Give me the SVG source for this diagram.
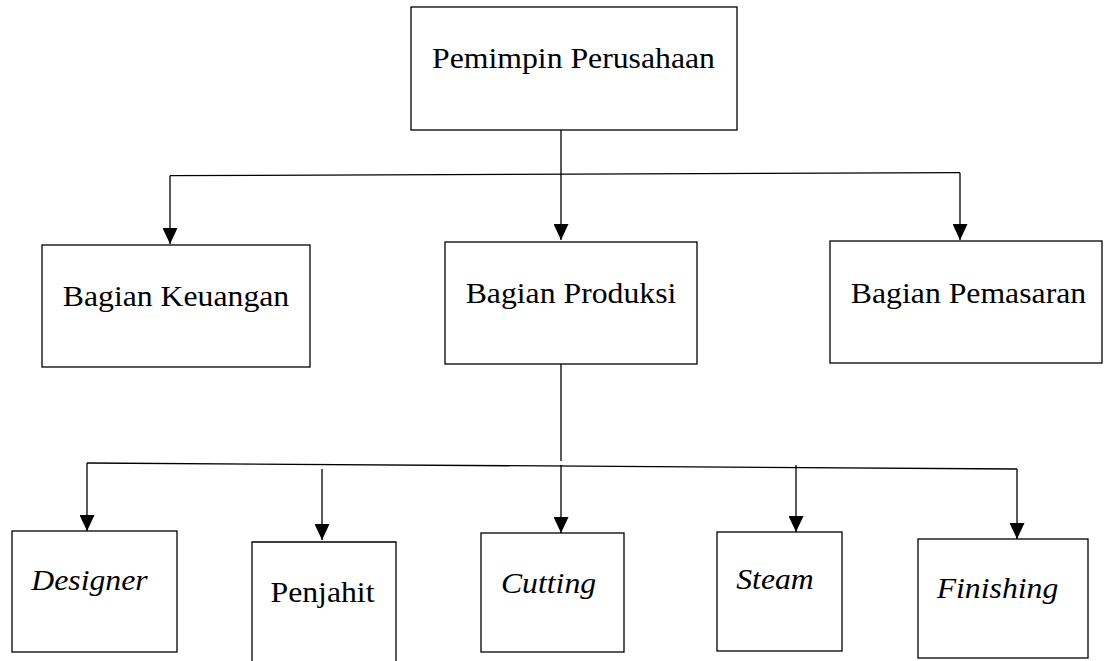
<svg xmlns="http://www.w3.org/2000/svg" width="1109" height="661" viewBox="0 0 1109 661" font-family="Liberation Serif" font-size="29">
<style>
.box{fill:#fff;stroke:#000;stroke-width:1.3}
.t{fill:#000;text-anchor:middle}
.i{font-style:italic}
.c{fill:none;stroke:#000;stroke-width:1.3}
</style>
<defs>
<marker id="ah" viewBox="0 0 16 15" refX="16" refY="7.5" markerWidth="16" markerHeight="15" markerUnits="userSpaceOnUse" orient="auto">
<path d="M0,0 L16,7.5 L0,15 z" fill="#000"/>
</marker>
</defs>
<rect width="1109" height="661" fill="#fff"/>
<g id="connectors">
<line class="c" x1="561" y1="130" x2="561" y2="240" marker-end="url(#ah)"/>
<line class="c" x1="170" y1="175.7" x2="960" y2="172.7"/>
<line class="c" x1="170" y1="175.7" x2="170" y2="244" marker-end="url(#ah)"/>
<line class="c" x1="960" y1="172.7" x2="960" y2="240" marker-end="url(#ah)"/>
<line class="c" x1="561" y1="364" x2="561" y2="461"/>
<line class="c" x1="87" y1="463" x2="1017" y2="469"/>
<line class="c" x1="87" y1="463" x2="87" y2="531" marker-end="url(#ah)"/>
<line class="c" x1="322" y1="469" x2="322" y2="540" marker-end="url(#ah)"/>
<line class="c" x1="561" y1="465" x2="561" y2="533" marker-end="url(#ah)"/>
<line class="c" x1="796" y1="465" x2="796" y2="532" marker-end="url(#ah)"/>
<line class="c" x1="1017" y1="469" x2="1017" y2="539" marker-end="url(#ah)"/>
</g>
<g id="pemimpin">
<rect class="box" x="411" y="7" width="326" height="123"/>
<text class="t" transform="translate(573.5,68) scale(1.095,1)">Pemimpin Perusahaan</text>
</g>
<g id="keuangan">
<rect class="box" x="42" y="245" width="268" height="122"/>
<text class="t" transform="translate(176,306) scale(1.095,1)">Bagian Keuangan</text>
</g>
<g id="produksi">
<rect class="box" x="445" y="242" width="252" height="122"/>
<text class="t" transform="translate(571,303) scale(1.095,1)">Bagian Produksi</text>
</g>
<g id="pemasaran">
<rect class="box" x="830" y="241" width="272" height="122"/>
<text class="t" transform="translate(968.5,303) scale(1.095,1)">Bagian Pemasaran</text>
</g>
<g id="designer">
<rect class="box" x="12" y="531" width="165" height="121"/>
<text class="t i" transform="translate(89.5,590) scale(1.095,1)">Designer</text>
</g>
<g id="penjahit">
<path class="box" d="M252,661 L252,542 L396,542 L396,661"/>
<text class="t" transform="translate(322.5,602) scale(1.095,1)">Penjahit</text>
</g>
<g id="cutting">
<rect class="box" x="481" y="533" width="143" height="119"/>
<text class="t i" transform="translate(548.5,593) scale(1.095,1)">Cutting</text>
</g>
<g id="steam">
<rect class="box" x="717" y="532" width="125" height="119"/>
<text class="t i" transform="translate(775,589) scale(1.095,1)">Steam</text>
</g>
<g id="finishing">
<rect class="box" x="918" y="539" width="170" height="119"/>
<text class="t i" transform="translate(997.5,598) scale(1.095,1)">Finishing</text>
</g>
</svg>
